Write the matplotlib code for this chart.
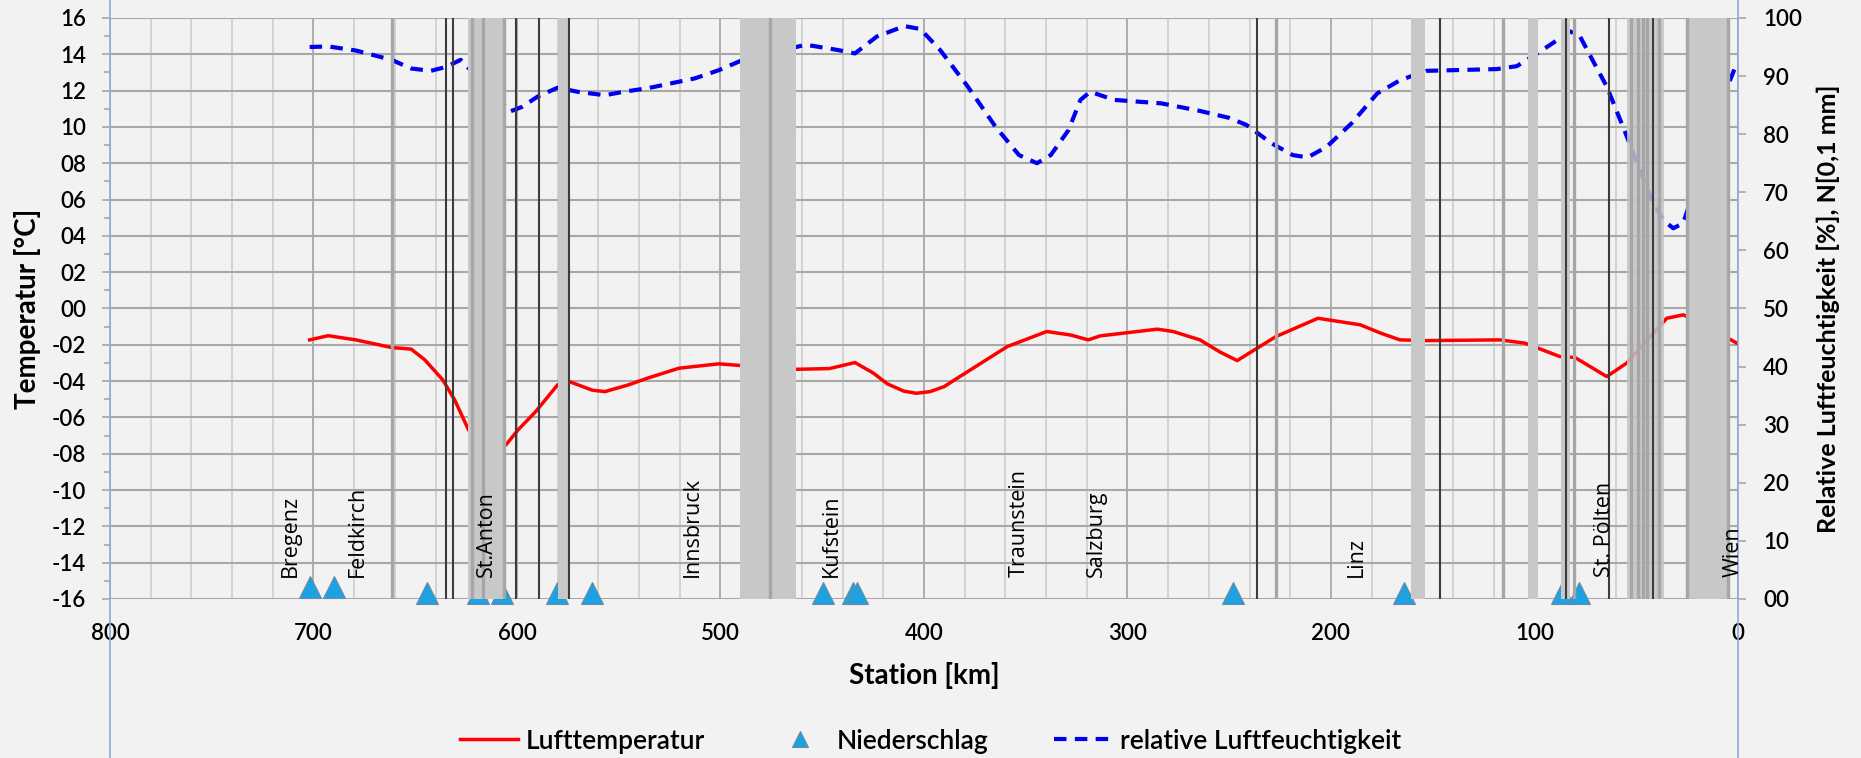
import matplotlib
matplotlib.use('Agg')
import matplotlib.pyplot as plt
from matplotlib.lines import Line2D
from matplotlib.ticker import FuncFormatter, MultipleLocator

plt.rcParams['font.family'] = ['Lato', 'DejaVu Sans']
plt.rcParams['font.weight'] = 'semibold'

# === data ===

# air temperature along the line: station [km] and value [°C]
temp_km = [701.9, 692.8, 679.2, 661.7, 652.0, 645.3, 636.5, 630.6, 623.8, 615.0,
           605.4, 599.5, 590.8, 580.0, 574.2, 563.0, 556.8, 545.0, 535.9, 520.4,
           500.9, 490.2, 462.7, 446.5, 433.9, 425.0, 418.0, 410.0, 403.8, 397.0, 390.0,
           386.3, 359.1, 339.7, 328.0, 319.3, 313.4, 285.3, 277.5, 264.4, 254.5, 246.1,
           227.1, 206.4, 185.6, 175.3, 166.1, 153.0, 117.0, 104.7, 87.5, 80.1,
           64.5, 54.7, 43.2, 35.0, 26.8, 4.8, 0.6]
temp_c = [-1.73, -1.50, -1.73, -2.15, -2.24, -2.83, -3.93, -5.04, -6.69, -7.60,
          -7.51, -6.69, -5.68, -4.20, -4.03, -4.50, -4.58, -4.20, -3.84, -3.29,
          -3.05, -3.14, -3.35, -3.31, -2.98, -3.55, -4.15, -4.55, -4.67, -4.58, -4.30,
          -4.03, -2.10, -1.27, -1.46, -1.73, -1.51, -1.14, -1.27, -1.73, -2.40, -2.87,
          -1.55, -0.54, -0.90, -1.37, -1.73, -1.77, -1.73, -1.91, -2.65, -2.70,
          -3.75, -3.01, -1.55, -0.54, -0.35, -1.64, -1.91]

# relative humidity [%]
hum_km = [701.9, 692.8, 679.2, 661.7, 652.0, 642.3, 634.6, 627.7, 603.4, 597.5,
          589.7, 580.0, 570.3, 556.8, 547.6, 535.9, 512.6, 500.9, 490.2, 458.2,
          442.6, 433.9, 423.2, 409.6, 401.8, 392.1, 378.5, 364.9, 353.3, 344.5,
          337.7, 329.0, 323.1, 318.3, 306.6, 283.3, 264.4, 250.0, 241.6, 229.1,
          218.8, 211.5, 202.2, 189.8, 177.3, 166.0, 153.0, 118.6, 108.7, 97.3,
          87.5, 82.6, 77.6, 71.1, 64.5, 55.5, 51.4, 42.4, 36.7, 31.8,
          26.9, 3.9, 0.6]
hum_pct = [95.0, 95.1, 94.4, 92.8, 91.3, 90.9, 91.6, 92.8, 83.9, 84.7,
           86.5, 88.0, 87.3, 86.7, 87.3, 87.9, 89.6, 91.0, 92.6, 95.4,
           94.5, 93.9, 96.8, 98.6, 98.1, 94.5, 88.2, 81.3, 76.4, 75.0,
           76.4, 80.7, 85.9, 87.3, 85.9, 85.3, 84.0, 82.8, 81.6, 78.4,
           76.4, 76.0, 77.8, 81.9, 87.0, 89.3, 90.9, 91.2, 91.7, 94.2,
           96.5, 97.7, 96.8, 92.5, 88.2, 80.4, 76.7, 68.7, 65.2, 63.8,
           64.7, 89.3, 92.2]

# precipitation [0,1 mm]
rain_km = [701.9, 689.9, 644.2, 619.0, 607.3, 580.1, 563.2, 449.4, 434.8, 432.9,
           248.2, 164.2, 86.6, 78.2]
rain_val = [2, 2, 1, 1, 1, 1, 1, 1, 1, 1, 1, 1, 1, 1]

# station names
station_names = ['Bregenz', 'Feldkirch', 'St.Anton', 'Innsbruck', 'Kufstein',
                 'Traunstein', 'Salzburg', 'Linz', 'St. Pölten', 'Wien']
station_km = [711.3, 678.2, 615.0, 513.6, 445.6, 353.3, 315.4, 187.3, 65.4, 2.3]

# shaded sections (tunnels) [km]
band_from = [624.2, 579.7, 490.4, 160.8, 103.3, 87.0, 25.0]
band_to = [605.3, 574.2, 462.7, 153.9, 98.2, 82.6, 5.5]
cluster_from = 54.7
cluster_to = 36.6
dark_km = [635.1, 631.4, 600.5, 589.4, 574.5, 236.4, 146.4, 84.7, 63.3, 41.8]
gray_km = [661.2, 622.0, 616.5, 606.2, 475.5, 227.1, 115.6, 80.6, 52.5, 49.0, 46.5, 44.5, 39.0, 25.2, 4.9]

# === plot ===
bg = '#f2f2f2'
fig = plt.figure(figsize=(18.61, 7.58), dpi=100, facecolor=bg)
ax = fig.add_axes([0.0591, 0.2098, 0.8748, 0.7665])
ax.set_facecolor(bg)
ax.set_xlim(800, 0)
ax.set_ylim(-16, 16)
ax2 = ax.twinx()
ax2.set_ylim(0, 100)
for a in (ax, ax2):
    for s in a.spines.values():
        s.set_visible(False)

# grid
ax.set_axisbelow(True)
ax.xaxis.set_major_locator(MultipleLocator(100))
ax.xaxis.set_minor_locator(MultipleLocator(20))
ax.yaxis.set_major_locator(MultipleLocator(2))
ax.yaxis.set_minor_locator(MultipleLocator(1))
ax.grid(axis='x', which='major', color='#a8a8a8', lw=1.3)
ax.grid(axis='x', which='minor', color='#cdcdcd', lw=1.2)
ax.grid(axis='y', which='major', color='#a8a8a8', lw=1.5)
ax2.yaxis.set_major_locator(MultipleLocator(10))

# ticks and labels
ax.tick_params(axis='x', which='both', length=0, pad=17, labelsize=16)
ax.tick_params(axis='y', which='major', direction='out', length=6, width=1.2, color='#a8a8a8', pad=11, labelsize=16)
ax.tick_params(axis='y', which='minor', direction='out', length=4.5, width=1.2, color='#a8a8a8')
ax2.tick_params(axis='y', which='major', direction='out', length=6, width=1.2, color='#a8a8a8', pad=12, labelsize=16)
ax.xaxis.set_major_formatter(FuncFormatter(lambda v, p: '%d' % v))
ax.yaxis.set_major_formatter(FuncFormatter(lambda v, p: '%02d' % v if v >= 0 else '-%02d' % abs(v)))
ax2.yaxis.set_major_formatter(FuncFormatter(lambda v, p: '%02d' % v))

ax.set_xlabel('Station [km]', fontsize=20, fontweight='bold')
ax.set_ylabel('Temperatur [°C]', fontsize=20, fontweight='bold')
ax2.set_ylabel('Relative Luftfeuchtigkeit [%], N[0,1 mm]', fontsize=18, fontweight='bold')
ax.xaxis.set_label_coords(0.5, -0.108)
ax.yaxis.set_label_coords(-0.0424, 0.5)
ax2.yaxis.set_label_coords(1.0485, 0.5)

# blue axis lines over the full height
for xa in (0, 1):
    ax2.plot([xa, xa], [-0.28, 1.04], transform=ax.transAxes, color='#8eaadb', lw=1.2, clip_on=False, zorder=6)

# series
ax.plot(temp_km, temp_c, color='red', lw=2.5, zorder=2)
ax2.plot(hum_km, hum_pct, color='#0000ee', lw=3.0, ls=(0, (3, 2)), zorder=2)
ax2.plot(rain_km, rain_val, ls='none', marker='^', ms=16, mfc='#1ea1e0', mec='#6d8aa0', mew=0.8,
         clip_on=False, zorder=2.5)

# tunnels
for a, b in zip(band_from, band_to):
    ax2.axvspan(b, a, color='#c8c8c8', lw=0, zorder=3)
ax2.axvspan(cluster_to, cluster_from, color='#c4c4c4', alpha=0.85, lw=0, zorder=3)
for x in gray_km:
    ax2.axvline(x, color='#a6a6a6', lw=2.4, zorder=3.5)
for x in dark_km:
    ax2.axvline(x, color='#3c3c3c', lw=1.5, zorder=4)

# station names
for name, x in zip(station_names, station_km):
    ax2.text(x, -14.8, name, transform=ax.transData, rotation=90, ha='center', va='bottom',
             fontsize=15.5, fontweight='normal', family=['Open Sans', 'DejaVu Sans'], zorder=7)

# legend
handles = [Line2D([], [], color='red', lw=2.5),
           Line2D([], [], ls='none', marker='^', ms=12, mfc='#1ea1e0', mec='#6d8aa0', mew=0.8),
           Line2D([], [], color='#0000ee', lw=3.0, ls=(0, (3, 2)))]
labels = ['Lufttemperatur', 'Niederschlag', 'relative Luftfeuchtigkeit']
fig.legend(handles, labels, loc='center', bbox_to_anchor=(0.5, 0.0224), ncol=3, frameon=False,
           prop={'size': 19, 'weight': 'semibold'}, handlelength=2.2, handletextpad=0.3, columnspacing=2.5)

fig.savefig('out.png', dpi=100, facecolor=bg)
